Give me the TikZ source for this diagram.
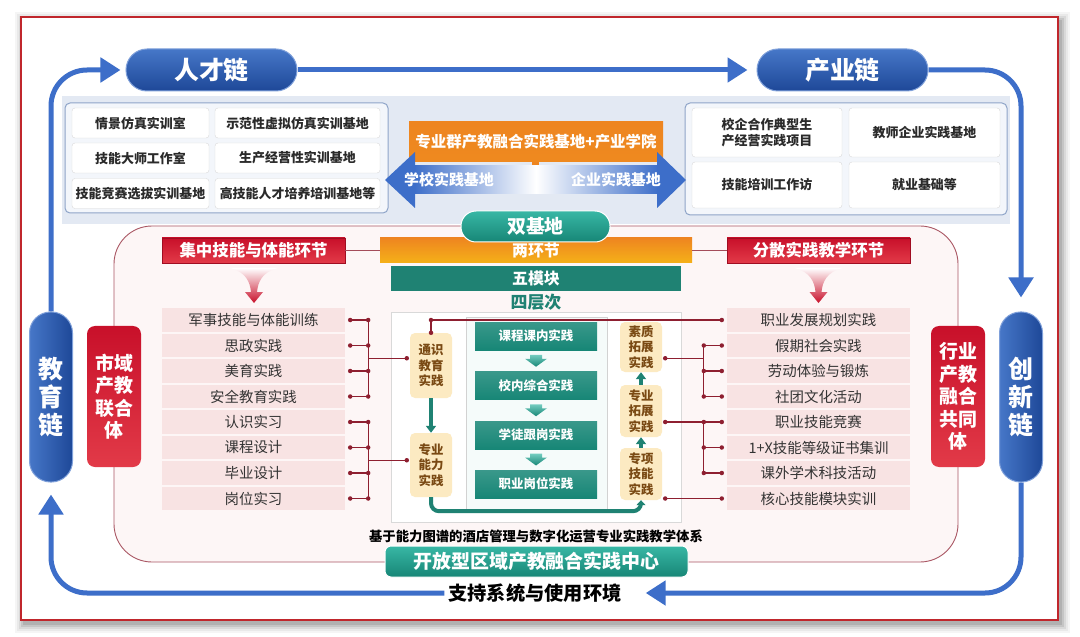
\documentclass[tikz,border=0pt]{standalone}
\usepackage{fontspec}
\setmainfont{Noto Sans CJK SC}
\usetikzlibrary{arrows.meta,calc}
\definecolor{lineblue}{HTML}{3D6EC9}
\definecolor{pilltop}{HTML}{4677C8}
\definecolor{pillbot}{HTML}{1E4898}
\definecolor{pillborder}{HTML}{7FA0DA}
\definecolor{redtop}{HTML}{C8102A}
\definecolor{redbot}{HTML}{E23A48}
\definecolor{darkred}{HTML}{8E1F30}
\definecolor{orangeA}{HTML}{EE8520}
\definecolor{orangeB}{HTML}{F5B118}
\definecolor{tealA}{HTML}{38B7A5}
\definecolor{tealB}{HTML}{178676}
\definecolor{tealD}{HTML}{1F8273}
\definecolor{pinkitem}{HTML}{F8E3E3}
\definecolor{pinkbg}{HTML}{FDF6F6}
\definecolor{bandbg}{HTML}{E3E9F3}
\definecolor{grpfill}{HTML}{F3F6FB}
\definecolor{grpborder}{HTML}{8EA4C8}
\definecolor{yellowbox}{HTML}{FCEAC2}
\definecolor{browntext}{HTML}{7A4A14}
\definecolor{framered}{HTML}{C0262C}
\definecolor{textdark}{HTML}{2A2A2A}
\begin{document}
\begin{tikzpicture}[x=1bp,y=-1bp,
  every node/.style={inner sep=0pt, align=center},
  hpill/.style={draw=pillborder, line width=1bp, top color=pilltop, bottom color=pillbot, text=white,
    rounded corners=21bp, minimum width=171bp, minimum height=42bp, font=\bfseries\fontsize{25}{27}\selectfont},
  vpill/.style={draw=pillborder, line width=1bp, left color=pilltop, right color=pillbot, text=white,
    rounded corners=21bp, minimum width=43bp, minimum height=170bp, font=\bfseries\fontsize{25}{28}\selectfont},
  bluearrow/.style={lineblue, line width=5bp, rounded corners=36bp, -{Triangle[length=20bp,width=24bp]}},
  cell/.style={draw=gray!30, fill=white, rounded corners=3bp, text=textdark, font=\bfseries\fontsize{13}{16}\selectfont},
  item/.style={fill=pinkitem, minimum width=183bp, minimum height=23.5bp, text=black!80, font=\fontsize{14.5}{16}\selectfont},
  banner/.style={top color=redtop, bottom color=redbot, draw=redtop!80!black, line width=0.5bp, minimum width=183bp, minimum height=25bp,
    text=white, font=\bfseries\fontsize{16.5}{18}\selectfont},
  redbox/.style={top color=redtop, bottom color=redbot, rounded corners=8bp, minimum width=54bp, minimum height=141bp,
    text=white, font=\bfseries\fontsize{19}{22.5}\selectfont},
  conn/.style={darkred, line width=1.2bp},
  dot/.style={circle, fill=darkred, inner sep=0pt, minimum size=4.5bp},
  ybox/.style={fill=yellowbox, rounded corners=5bp, minimum width=42bp, text=browntext, font=\bfseries\fontsize{12.5}{15.5}\selectfont},
  kbox/.style={top color=tealB!85!white, bottom color=tealB, minimum width=122bp, minimum height=28bp, text=white,
    font=\bfseries\fontsize{12.5}{14}\selectfont},
  tealarrow/.style={tealD, line width=3.5bp, -{Triangle[length=7bp,width=10bp]}},
  funnel/.style={top color=white, middle color=redbot!80, bottom color=redtop}
]
\useasboundingbox (0,0) rectangle (1080,637);

% frame with shadow
\foreach \e/\op in {9/0.04,7/0.05,5/0.07,3/0.09,1/0.1}{
  \fill[black,opacity=\op] (21-\e+3,17-\e+4) rectangle (1058+\e+3,620+\e+4);
}
\draw[framered, line width=1.6bp, fill=white] (21,17) rectangle (1058,620);

% top band and groups
\fill[bandbg] (62,96) rectangle (1010,224);
\draw[grpborder, line width=1bp, fill=grpfill, rounded corners=5bp] (65,103) rectangle (388,213);
\draw[grpborder, line width=1bp, fill=grpfill, rounded corners=5bp] (685,103) rectangle (1007,215);

\node[cell, minimum width=137bp, minimum height=30bp] (a1) at (140.5,123) {情景仿真实训室};
\node[cell, minimum width=165bp, minimum height=30bp] (a2) at (297.5,123) {示范性虚拟仿真实训基地};
\node[cell, minimum width=137bp, minimum height=30bp] (a3) at (140.5,158) {技能大师工作室};
\node[cell, minimum width=165bp, minimum height=30bp] (a4) at (297.5,158) {生产经营性实训基地};
\node[cell, minimum width=137bp, minimum height=30bp] (a5) at (140.5,193.5) {技能竞赛选拔实训基地};
\node[cell, minimum width=165bp, minimum height=30bp] (a6) at (297.5,193.5) {高技能人才培养培训基地等};

\node[cell, minimum width=150bp, minimum height=49bp] (b1) at (767,132.5) {校企合作典型生\\产经营实践项目};
\node[cell, minimum width=151bp, minimum height=49bp] (b2) at (924.5,132.5) {教师企业实践基地};
\node[cell, minimum width=150bp, minimum height=46bp] (b3) at (767,185) {技能培训工作访};
\node[cell, minimum width=151bp, minimum height=46bp] (b4) at (924.5,185) {就业基础等};

% orange box and double arrow
\node[top color=orangeA, bottom color=orangeA!90!orangeB, minimum width=254bp, minimum height=40bp,
  text=white, font=\bfseries\fontsize{15.5}{17}\selectfont] (ob) at (536,142) {专业群产教融合实践基地+产业学院};
\fill[orangeA] (532,162) rectangle (539,173);
\shade[left color=lineblue, middle color=lineblue!55!white, right color=white] (414,166) rectangle (536,194);
\fill[lineblue] (385,180) -- (415,152) -- (415,208) -- cycle;
\shade[left color=white, middle color=lineblue!55!white, right color=lineblue] (536,166) rectangle (658,194);
\fill[lineblue] (686,180) -- (657,152) -- (657,208) -- cycle;
\node[text=white, font=\bfseries\fontsize{15}{17}\selectfont] (xs) at (449,180) {学校实践基地};
\node[text=white, font=\bfseries\fontsize{15}{17}\selectfont] (qs) at (616,180) {企业实践基地};

% big pink area
\draw[darkred!75, line width=0.9bp, fill=pinkbg, rounded corners=38bp] (114,226) rectangle (958,562);
\draw[gray!30, fill=white] (391,312) rectangle (681,522);
\draw[gray!35, fill=tealA!5] (466,317) rectangle (607,509);

% bars and banners
\node[top color=orangeA, bottom color=orangeB, minimum width=312bp, minimum height=25bp,
  text=white, font=\bfseries\fontsize{16}{18}\selectfont] (lh) at (536,250.5) {两环节};
\node[fill=tealD, minimum width=290bp, minimum height=25bp,
  text=white, font=\bfseries\fontsize{16}{18}\selectfont] (wm) at (536,278.5) {五模块};
\node[text=tealD, font=\bfseries\fontsize{17}{19}\selectfont] (sc) at (536,302) {四层次};
\node[top color=tealA, bottom color=tealB, draw=white, line width=1bp, rounded corners=15bp, minimum width=149bp, minimum height=31bp,
  text=white, font=\bfseries\fontsize{19}{21}\selectfont] (sj) at (535.5,226.5) {双基地};

\node[banner] (jz) at (253.5,250.5) {集中技能与体能环节};
\node[banner] (fs) at (818.5,250.5) {分散实践教学环节};
\draw[darkred!80, line width=1bp] (jz.east) -- (lh.west);
\draw[darkred!80, line width=1bp] (lh.east) -- (fs.west);

% funnels
\foreach \c in {254,818.5}{
  \begin{scope}[shift={(\c,0)}]
    \shade[funnel] (-24,268) -- (24,268) .. controls (8,272) and (4,282) .. (3,292) -- (9,292) -- (0,303) -- (-9,292) -- (-3,292) .. controls (-4,282) and (-8,272) .. (-24,268) -- cycle;
  \end{scope}
}

% side red boxes
\node[redbox] (sy) at (114,396.5) {市域\\产教\\联合\\体};
\node[redbox] (hy) at (958,396.5) {行业\\产教\\融合\\共同\\体};

% lists
\foreach [count=\i] \t in {军事技能与体能训练,思政实践,美育实践,安全教育实践,认识实习,课程设计,毕业设计,岗位实习}{
  \node[item] (L\i) at (253.5,{320+25.5*(\i-1)}) {\t};
}
\foreach [count=\i] \t in {职业发展规划实践,假期社会实践,劳动体验与锻炼,社团文化活动,职业技能竞赛,1+X技能等级证书集训,课外学术科技活动,核心技能模块实训}{
  \node[item] (R\i) at (818.5,{320+25.5*(\i-1)}) {\t};
}

% yellow boxes
\node[ybox, minimum height=65bp] (tj) at (431,365.5) {通识\\教育\\实践};
\node[ybox, minimum height=64bp] (zn) at (431,465) {专业\\能力\\实践};
\node[ybox, minimum height=50bp] (sz) at (641,347) {素质\\拓展\\实践};
\node[ybox, minimum height=52bp] (zt) at (641,411) {专业\\拓展\\实践};
\node[ybox, minimum height=52bp] (zx) at (641,474) {专项\\技能\\实践};

% teal center boxes
\node[kbox] (k1) at (536,336) {课程课内实践};
\node[kbox] (k2) at (536,385.5) {校内综合实践};
\node[kbox] (k3) at (536,435) {学徒跟岗实践};
\node[kbox] (k4) at (536,484) {职业岗位实践};
\foreach \a/\b in {k1/k2,k2/k3,k3/k4}{
  \coordinate (m\a) at ($(\a.south)!0.5!(\b.north)$);
  \begin{scope}[shift={(m\a)}]
    \shade[top color=tealA!70!white, bottom color=tealB] (-6,-6) -- (6,-6) -- (6,-2) -- (11,-2) -- (0,6) -- (-11,-2) -- (-6,-2) -- cycle;
  \end{scope}
}

% teal arrows between yellow boxes
\draw[tealarrow] (tj.south) -- (zn.north);
\draw[tealarrow] (zx.north) -- (zt.south);
\draw[tealarrow] (zt.north) -- (sz.south);
\draw[tealD, line width=4bp, rounded corners=8bp, -{Triangle[length=5bp,width=9bp]}] (zn.south) -- ++(0,14) -| (zx.south);

% left connectors
\foreach \i in {1,...,8}{
  \draw[conn] ([xshift=5bp]L\i.east) node[dot]{} -- ([xshift=23bp]L\i.east) node[dot]{};
}
\draw[conn] ([xshift=23bp]L1.east) -- ([xshift=23bp]L4.east);
\draw[conn] ([xshift=23bp]L5.east) -- ([xshift=23bp]L8.east);
\coordinate (g1) at ($([xshift=23bp]L1.east)!0.5!([xshift=23bp]L4.east)$);
\coordinate (g2) at ($([xshift=23bp]L5.east)!0.5!([xshift=23bp]L8.east)$);
\draw[conn] (g1) -- ([xshift=-3bp]tj.west |- g1) node[dot]{};
\draw[conn] (g2) -- ([xshift=-3bp]zn.west |- g2) node[dot]{};

% right connectors
\foreach \i in {2,...,7}{
  \draw[conn] ([xshift=-5bp]R\i.west) node[dot]{} -- ([xshift=-23bp]R\i.west) node[dot]{};
}
\draw[conn] ([xshift=-23bp]R2.west) -- ([xshift=-23bp]R4.west);
\draw[conn] ([xshift=-23bp]R5.west) -- ([xshift=-23bp]R7.west);
\coordinate (h1) at ($([xshift=-23bp]R2.west)!0.5!([xshift=-23bp]R3.west)$);
\draw[conn] ([xshift=3bp]sz.east |- h1) node[dot]{} -- (h1);
\draw[conn] ([xshift=3bp]zt.east |- R5.west) node[dot]{} -- ([xshift=-23bp]R5.west);
\draw[conn] ([xshift=3bp]zx.east |- R8.west) node[dot]{} -- ([xshift=-5bp]R8.west) node[dot]{};
\draw[conn] (tj.north) node[dot]{} -- (tj.north |- R1.west) node[dot]{} -- ([xshift=-5bp]R1.west) node[dot]{};

% bottom
\node[text=black, font=\bfseries\fontsize{13.4}{15}\selectfont] (cap) at (536,536) {基于能力图谱的酒店管理与数字化运营专业实践教学体系};
\node[top color=tealA, bottom color=tealB, draw=white, line width=1bp, rounded corners=6bp, minimum width=303bp, minimum height=31bp,
  text=white, font=\bfseries\fontsize{19}{21}\selectfont] (kf) at (536.5,561.5) {开放型区域产教融合实践中心};

% chains
\node[hpill] (rc) at (211.5,70) {人才链};
\node[hpill] (cy) at (842.5,70) {产业链};
\node[vpill] (jy) at (51,397) {教\\育\\链};
\node[vpill] (cx) at (1021,397) {创\\新\\链};
\node[text=black, font=\bfseries\fontsize{19.3}{21}\selectfont, inner xsep=4bp] (zc) at (535,593) {支持系统与使用环境};

\draw[bluearrow] (rc.east) -- ([xshift=-9bp]cy.west);
\draw[bluearrow] (jy.north) |- ([xshift=-5bp]rc.west);
\draw[bluearrow] (cy.east) -| ([yshift=14bp]cx.north);
\draw[bluearrow] (cx.south) |- ([xshift=20bp]zc.east);
\draw[bluearrow] (zc.west) -| ([yshift=-12bp]jy.south);
\end{tikzpicture}
\end{document}
